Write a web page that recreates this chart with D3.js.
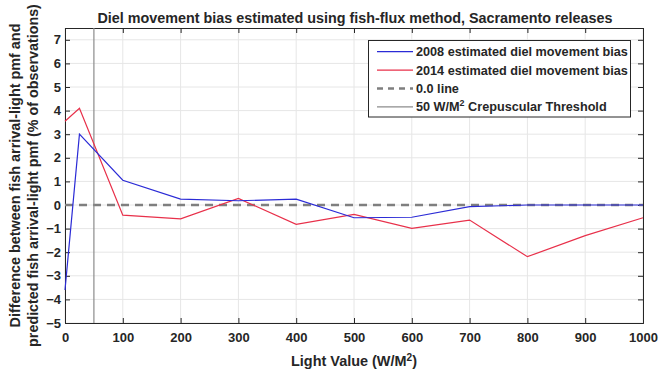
<!DOCTYPE html>
<html><head><meta charset="utf-8">
<script src="https://cdn.jsdelivr.net/npm/d3@7"></script>
<style>body{margin:0;background:#fff;} svg{display:block;} text{font-family:"Liberation Sans",Arial,sans-serif;}</style>
</head><body>
<script>
const lightValues = [0, 25, 100, 200, 300, 400, 500, 600, 700, 800, 900, 1000];
const bias2008 = [-3.6, 3.0, 1.05, 0.25, 0.18, 0.25, -0.54, -0.52, -0.07, 0.0, 0.0, 0.0];
const bias2014 = [3.55, 4.1, -0.43, -0.59, 0.28, -0.82, -0.4, -0.99, -0.64, -2.19, -1.3, -0.54];
const xTicks = [0, 100, 200, 300, 400, 500, 600, 700, 800, 900, 1000];
const yTicks = [-5, -4, -3, -2, -1, 0, 1, 2, 3, 4, 5, 6, 7];
const threshold = 50;
const legendLabels = ["2008 estimated diel movement bias", "2014 estimated diel movement bias", "0.0 line", "50 W/M\u00b2 Crepuscular Threshold"];

const W = 659, H = 376;
const m = {l: 65, r: 16, t: 28, b: 53};
const svg = d3.select("body").append("svg").attr("width", W).attr("height", H);
const x = d3.scaleLinear().domain([0, 1000]).range([m.l, W - m.r]);
const y = d3.scaleLinear().domain([-5, 7.5]).range([H - m.b, m.t]);
const X0 = m.l, X1 = W - m.r, Y0 = H - m.b, Y1 = m.t;

function fit(sel, target) {
  const n = sel.node();
  const fsz = parseFloat(sel.attr("font-size"));
  const len = n.getComputedTextLength();
  if (len > 0) sel.attr("font-size", (fsz * target / len).toFixed(2) + "px");
}

// grid
svg.append("g").selectAll("line").data(xTicks).join("line")
  .attr("x1", d => x(d)).attr("x2", d => x(d)).attr("y1", Y0).attr("y2", Y1)
  .attr("stroke", "#e6e6e6").attr("stroke-width", 1);
svg.append("g").selectAll("line").data(yTicks).join("line")
  .attr("x1", X0).attr("x2", X1).attr("y1", d => y(d)).attr("y2", d => y(d))
  .attr("stroke", "#e6e6e6").attr("stroke-width", 1);

// axes
const fs = "13px";
const xAxis = svg.append("g").attr("transform", `translate(0,${Y0})`)
  .call(d3.axisBottom(x).tickValues(xTicks).tickSize(-5).tickPadding(10).tickFormat(d3.format("d")));
const xTop = svg.append("g").attr("transform", `translate(0,${Y1})`)
  .call(d3.axisTop(x).tickValues(xTicks).tickSize(-5).tickFormat(""));
const yAxis = svg.append("g").attr("transform", `translate(${X0},0)`)
  .call(d3.axisLeft(y).tickValues(yTicks).tickSize(-5).tickPadding(4).tickFormat(d3.format("d")));
const yRight = svg.append("g").attr("transform", `translate(${X1},0)`)
  .call(d3.axisRight(y).tickValues(yTicks).tickSize(-5).tickFormat(""));
[xAxis, xTop, yAxis, yRight].forEach(g => {
  g.select(".domain").attr("stroke", "#262626").attr("stroke-width", 1);
  g.selectAll(".tick line").attr("stroke", "#262626");
  g.selectAll("text").attr("font-size", fs).attr("font-weight", "bold").attr("fill", "#262626")
    .attr("font-family", "Liberation Sans, Arial, sans-serif");
});

// zero line
svg.append("line").attr("x1", x(0)).attr("x2", x(1000)).attr("y1", y(0)).attr("y2", y(0))
  .attr("stroke", "#7f7f7f").attr("stroke-width", 2.5).attr("stroke-dasharray", "8,6");
// threshold
svg.append("line").attr("x1", x(threshold)).attr("x2", x(threshold)).attr("y1", Y0).attr("y2", Y1)
  .attr("stroke", "#8c8c8c").attr("stroke-width", 1.2);

const line = d3.line().x((d, i) => x(lightValues[i])).y(d => y(d));
svg.append("path").datum(bias2014).attr("d", line).attr("fill", "none").attr("stroke", "#e8304a").attr("stroke-width", 1.2);
svg.append("path").datum(bias2008).attr("d", line).attr("fill", "none").attr("stroke", "#2b2bd6").attr("stroke-width", 1.2);

// legend
const lg = svg.append("g");
lg.append("rect").attr("x", 368.5).attr("y", 40.5).attr("width", 262).attr("height", 76.5)
  .attr("fill", "#fff").attr("stroke", "#262626").attr("stroke-width", 1);
const styles = [
  {c: "#2b2bd6", w: 1.2, d: null},
  {c: "#e8304a", w: 1.2, d: null},
  {c: "#7f7f7f", w: 2.5, d: "6,5"},
  {c: "#8c8c8c", w: 1.2, d: null}
];
let legendSize = null;
legendLabels.forEach((t, i) => {
  const yy = 51.7 + i * 18.4;
  lg.append("line").attr("x1", 377).attr("x2", 413).attr("y1", yy).attr("y2", yy)
    .attr("stroke", styles[i].c).attr("stroke-width", styles[i].w).attr("stroke-dasharray", styles[i].d);
  const tx = lg.append("text").attr("x", 416).attr("y", yy + 4.5).attr("font-size", legendSize || "12px")
    .attr("font-weight", "bold").attr("fill", "#262626");
  if (i === 3) {
    tx.append("tspan").text("50 W/M");
    tx.append("tspan").attr("dy", -5).attr("font-size", "0.7em").text("2");
    tx.append("tspan").attr("dy", 5).text(" Crepuscular Threshold");
  } else tx.text(t);
  if (i === 0) { fit(tx, 212); legendSize = tx.attr("font-size"); }
});

// title
const title = svg.append("text").attr("x", (X0 + X1) / 2 + 1).attr("y", 23).attr("text-anchor", "middle")
  .attr("font-size", "13px").attr("font-weight", "bold").attr("fill", "#262626")
  .text("Diel movement bias estimated using fish-flux method, Sacramento releases");
fit(title, 515);

// x label
const xl = svg.append("text").attr("x", 354).attr("y", 366).attr("text-anchor", "middle")
  .attr("font-size", "13px").attr("font-weight", "bold").attr("fill", "#262626");
xl.append("tspan").text("Light Value (W/M");
xl.append("tspan").attr("dy", -5).attr("font-size", "0.7em").text("2");
xl.append("tspan").attr("dy", 5).text(")");
fit(xl, 126);

// y label
const yl1 = svg.append("text").attr("transform", `translate(0,${(Y0 + Y1) / 2}) rotate(-90)`)
  .attr("text-anchor", "middle").attr("font-size", "13px").attr("font-weight", "bold").attr("fill", "#262626")
  .attr("x", 0).attr("y", 20).text("Difference between fish arrival-light pmf and");
const yl2 = svg.append("text").attr("transform", `translate(0,${(Y0 + Y1) / 2}) rotate(-90)`)
  .attr("text-anchor", "middle").attr("font-size", "13px").attr("font-weight", "bold").attr("fill", "#262626")
  .attr("x", 0).attr("y", 38).text("predicted fish arrival-light pmf (% of observations)");
fit(yl1, 304);
fit(yl2, 343);
</script>
</body></html>
